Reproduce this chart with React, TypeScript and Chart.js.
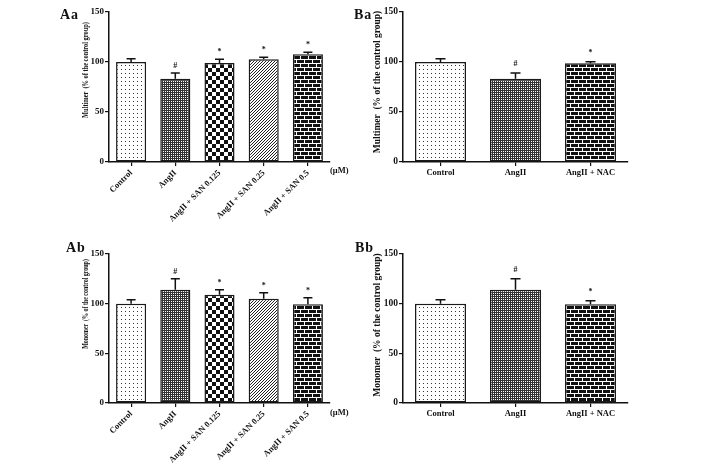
import React, { useEffect, useRef } from 'react';
import { Chart, registerables } from 'chart.js';
Chart.register(...registerables);

// ---------- data ----------
const aCategories = ['Control', 'AngII', 'AngII + SAN 0.125', 'AngII + SAN 0.25', 'AngII + SAN 0.5'];
const bCategories = ['Control', 'AngII', 'AngII + NAC'];
const yTicks = [0, 50, 100, 150];

const aaMultimer = [100, 83.3, 99, 102.7, 107.7];
const aaMultimerErr = [3.3, 5.7, 3.7, 2.0, 2.0];
const abMonomer = [100, 114, 109, 105, 99.5];
const abMonomerErr = [4, 11, 5, 6, 6.5];
const baMultimer = [100, 83.3, 98.7];
const baMultimerErr = [3.3, 5.7, 1.6];
const bbMonomer = [100, 114, 99.5];
const bbMonomerErr = [4, 11, 3.5];

const aMarks = ['', '#', '*', '*', '*'];
const bMarks = ['', '#', '*'];
const aPatterns = ['dots', 'grid', 'checker', 'diagonal', 'bricks'];
const bPatterns = ['dots', 'grid', 'bricks'];

const SERIF = '"Liberation Serif", "Times New Roman", serif';

function makePattern(kind: string): CanvasPattern | string {
  const c = document.createElement('canvas');
  let w = 4, h = 4;
  if (kind === 'checker' || kind === 'bricks') { w = 8; h = 8; }
  if (kind === 'grid') { w = 2; h = 2; }
  if (kind === 'diagonal') { w = 3; h = 3; }
  c.width = w; c.height = h;
  const g = c.getContext('2d')!;
  if (kind === 'dots') {
    g.fillStyle = '#fff'; g.fillRect(0, 0, w, h);
    g.fillStyle = '#333'; g.fillRect(1, 1, 1, 1);
  } else if (kind === 'grid') {
    g.fillStyle = '#333'; g.fillRect(0, 0, w, h);
    g.fillStyle = '#fff'; g.fillRect(1, 1, 1, 1);
  } else if (kind === 'checker') {
    g.fillStyle = '#fff'; g.fillRect(0, 0, w, h);
    g.fillStyle = '#111'; g.fillRect(0, 0, 4, 4); g.fillRect(4, 4, 4, 4);
  } else if (kind === 'diagonal') {
    g.fillStyle = '#fff'; g.fillRect(0, 0, w, h);
    g.fillStyle = '#222';
    for (let y = 0; y < h; y++) for (let x = 0; x < w; x++) {
      if ((x + y) % 3 === 2) g.fillRect(x, y, 1, 1);
    }
  } else if (kind === 'bricks') {
    g.fillStyle = '#111'; g.fillRect(0, 0, w, h);
    g.fillStyle = '#fff';
    g.fillRect(0, 3, 8, 1); g.fillRect(0, 7, 8, 1);
    g.fillRect(0, 0, 1, 3); g.fillRect(4, 4, 1, 3);
  }
  return g.createPattern(c, 'repeat') || '#888';
}

type PanelProps = {
  left: number; top: number; w: number; h: number;
  yAxisW: number; padTop: number; padRight: number; xAxisH: number;
  categories: string[]; values: number[]; errors: number[]; marks: string[]; patterns: string[];
  rotate: number; yTickSize: number; xTickSize: number; cap: number; markGap: number;
};

function Panel(p: PanelProps) {
  const ref = useRef<HTMLCanvasElement>(null);
  useEffect(() => {
    const canvas = ref.current!;
    const fills = p.patterns.map(makePattern);
    const errPlugin = {
      id: 'errbars',
      afterDatasetsDraw(chart: any) {
        const ctx = chart.ctx;
        const meta = chart.getDatasetMeta(0);
        const ys = chart.scales.y;
        ctx.save();
        meta.data.forEach((bar: any, i: number) => {
          const x = bar.x;
          const yv = ys.getPixelForValue(p.values[i]);
          const ye = ys.getPixelForValue(p.values[i] + p.errors[i]);
          ctx.strokeStyle = '#111';
          ctx.lineWidth = 1.5;
          ctx.beginPath();
          ctx.moveTo(x, yv);
          ctx.lineTo(x, ye);
          ctx.moveTo(x - p.cap / 2, ye);
          ctx.lineTo(x + p.cap / 2, ye);
          ctx.stroke();
          if (p.marks[i]) {
            ctx.fillStyle = '#111';
            ctx.font = `bold 8px ${SERIF}`;
            ctx.textAlign = 'center';
            ctx.textBaseline = 'middle';
            ctx.fillText(p.marks[i], x, ye - p.markGap);
          }
        });
        ctx.restore();
      },
    };
    const chart = new Chart(canvas, {
      type: 'bar',
      data: {
        labels: p.categories,
        datasets: [{
          data: p.values,
          backgroundColor: fills as any,
          borderColor: '#1a1a1a',
          borderWidth: 1.5,
          borderSkipped: false,
          categoryPercentage: 1,
          barPercentage: 0.68,
        }],
      },
      options: {
        responsive: false,
        animation: false,
        devicePixelRatio: 1,
        layout: { padding: { top: p.padTop, right: p.padRight, left: 0, bottom: 0 } },
        plugins: { legend: { display: false }, tooltip: { enabled: false } },
        scales: {
          x: {
            grid: { display: true, offset: false, drawOnChartArea: false, drawTicks: true, tickLength: 4, color: '#111', lineWidth: 1.2 },
            border: { color: '#111', width: 1.5 },
            ticks: {
              color: '#111', autoSkip: false, maxRotation: p.rotate, minRotation: p.rotate, padding: 2,
              font: { family: SERIF, weight: 'bold', size: p.xTickSize },
            },
            afterFit(s: any) { s.height = p.xAxisH; s.paddingLeft = 0; s.paddingRight = 0; },
          },
          y: {
            min: 0, max: 150,
            afterBuildTicks(s: any) { s.ticks = yTicks.map((v) => ({ value: v })); },
            grid: { display: true, drawOnChartArea: false, drawTicks: true, tickLength: 4, color: '#111', lineWidth: 1.2 },
            border: { color: '#111', width: 1.5 },
            ticks: { color: '#111', padding: 1, font: { family: SERIF, weight: 'bold', size: p.yTickSize } },
            afterFit(s: any) { s.width = p.yAxisW; s.paddingTop = 0; s.paddingBottom = 0; },
          },
        },
      } as any,
      plugins: [errPlugin],
    });
    return () => chart.destroy();
  }, []);
  return (
    <canvas
      ref={ref}
      width={p.w}
      height={p.h}
      style={{ position: 'absolute', left: p.left, top: p.top, width: p.w, height: p.h }}
    />
  );
}

function VTitle(props: { text: string; cx: number; cy: number; size: number; sx: number }) {
  return (
    <div
      style={{
        position: 'absolute', left: props.cx, top: props.cy,
        transform: `translate(-50%, -50%) rotate(-90deg) scaleX(${props.sx})`,
        whiteSpace: 'pre', fontFamily: SERIF, fontWeight: 'bold', fontSize: props.size,
        lineHeight: 1, color: '#111',
      }}
    >
      {props.text}
    </div>
  );
}

function Label(props: { text: string; x: number; y: number; size: number; ls?: number }) {
  return (
    <div
      style={{
        position: 'absolute', left: props.x, top: props.y, whiteSpace: 'pre',
        fontFamily: SERIF, fontWeight: 'bold', fontSize: props.size, lineHeight: 1,
        letterSpacing: props.ls || 0, color: '#111',
      }}
    >
      {props.text}
    </div>
  );
}

export default function App() {
  return (
    <div style={{ position: 'absolute', left: 0, top: 0, width: 708, height: 463, background: '#fff', overflow: 'hidden' }}>
      <Panel left={60} top={0} w={300} h={230} yAxisW={49} padTop={12} padRight={30} xAxisH={68}
        categories={aCategories} values={aaMultimer} errors={aaMultimerErr} marks={aMarks} patterns={aPatterns}
        rotate={45} yTickSize={9} xTickSize={8.5} cap={9} markGap={7} />
      <Panel left={60} top={230} w={300} h={233} yAxisW={49} padTop={24} padRight={30} xAxisH={60}
        categories={aCategories} values={abMonomer} errors={abMonomerErr} marks={aMarks} patterns={aPatterns}
        rotate={45} yTickSize={9} xTickSize={8.5} cap={9} markGap={7} />
      <Panel left={370} top={0} w={300} h={230} yAxisW={33} padTop={12} padRight={42} xAxisH={68}
        categories={bCategories} values={baMultimer} errors={baMultimerErr} marks={bMarks} patterns={bPatterns}
        rotate={0} yTickSize={9.5} xTickSize={8.5} cap={10} markGap={9} />
      <Panel left={370} top={230} w={300} h={233} yAxisW={33} padTop={24} padRight={42} xAxisH={60}
        categories={bCategories} values={bbMonomer} errors={bbMonomerErr} marks={bMarks} patterns={bPatterns}
        rotate={0} yTickSize={9.5} xTickSize={8.5} cap={10} markGap={9} />

      <VTitle text={'Multimer  (% of the control group)'} cx={84.5} cy={70} size={9} sx={0.71} />
      <VTitle text={'Monomer  (% of the control group)'} cx={85} cy={304} size={9} sx={0.66} />
      <VTitle text={'Multimer  (% of the control group)'} cx={377.5} cy={82} size={9.5} sx={1} />
      <VTitle text={'Monomer  (% of the control group)'} cx={377.5} cy={325} size={9.5} sx={1} />

      <Label text="Aa" x={60} y={8} size={14} ls={1} />
      <Label text="Ab" x={66} y={241} size={14} ls={1} />
      <Label text="Ba" x={354} y={8} size={14} ls={1} />
      <Label text="Bb" x={355} y={241} size={14} ls={1} />

      <Label text="(μM)" x={330} y={166} size={8.5} />
      <Label text="(μM)" x={330} y={408} size={8.5} />
    </div>
  );
}
